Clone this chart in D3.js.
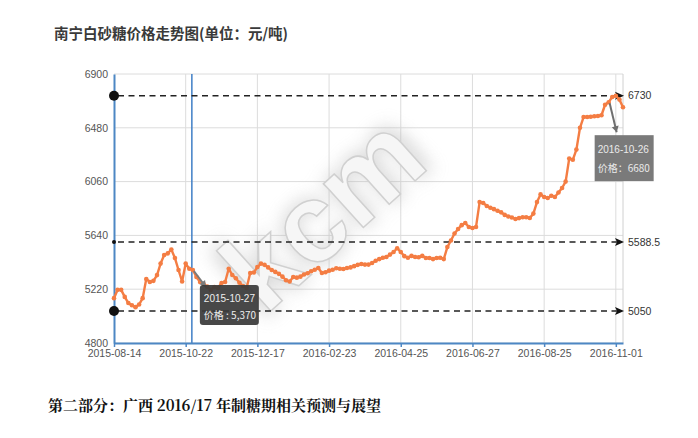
<!DOCTYPE html>
<html><head><meta charset="utf-8">
<script src="https://cdn.jsdelivr.net/npm/d3@7"></script>
<style>html,body{margin:0;padding:0;background:#fff;} svg{display:block;}</style>
</head><body>
<svg id="c" width="698" height="438"></svg>
<script>
const titleText = "南宁白砂糖价格走势图(单位：元/吨)";
const footerText = "第二部分：广西 2016/17 年制糖期相关预测与展望";
const tickLabels = ["2015-08-14","2015-10-22","2015-12-17","2016-02-23","2016-04-25","2016-06-27","2016-08-25","2016-11-01"];
const tickIndex = [0,20,40,60,80,100,120,140];
const yTicks = [4800,5220,5640,6060,6480,6900];
const prices = [
 5150,5215,5215,5160,5112,5095,5080,5100,5150,5300,
 5276,5285,5330,5420,5487,5500,5530,5463,5370,5280,
 5420,5380,5370,5315,5276,5260,5240,5214,5237,5229,
 5268,5276,5380,5331,5305,5270,5245,5229,5346,5350,
 5393,5420,5410,5390,5370,5355,5340,5318,5290,5280,
 5315,5310,5318,5335,5345,5360,5372,5385,5346,5352,
 5365,5372,5383,5380,5378,5385,5390,5400,5410,5417,
 5412,5412,5424,5442,5455,5465,5471,5490,5510,5540,
 5510,5478,5465,5480,5471,5470,5480,5463,5463,5455,
 5463,5465,5455,5549,5600,5655,5690,5720,5737,5705,
 5698,5706,5900,5893,5870,5856,5845,5832,5820,5800,
 5788,5780,5768,5775,5782,5782,5776,5810,5900,5960,
 5940,5932,5950,5940,5975,6010,6060,6240,6230,6310,
 6480,6564,6564,6566,6570,6572,6578,6660,6680,6720,
 6730,6700,6640
];
const refValues = [6730, 5588.5, 5050];
const refLabels = ["6730","5588.5","5050"];
const tipIndex = [22, 138];
const tipDates = ["2015-10-27","2016-10-26"];
const tipLabels = ["价格 : 5,370","价格：6680"];

const svg = d3.select("#c");
const L = 114, R = 623, T = 74, B = 343;
const x = d3.scaleLinear().domain([0, prices.length-1]).range([L, R]);
const y = d3.scaleLinear().domain([4800, 6900]).range([B, T]);
const FONT = "'Liberation Sans', Arial, sans-serif";
const CJK = "'Noto Sans CJK SC', 'Noto Sans', sans-serif";

svg.append("rect").attr("width",698).attr("height",438).attr("fill","#fff");

// title
svg.append("text").attr("x",54).attr("y",39).text(titleText)
  .attr("font-family",CJK).attr("font-weight","bold").attr("font-size",14.5).attr("fill","#3a3a3a");

// gridlines
const grid = svg.append("g");
grid.selectAll("line.h").data(yTicks).join("line")
  .attr("x1",L).attr("x2",R).attr("y1",d=>y(d)).attr("y2",d=>y(d))
  .attr("stroke","#dcdcdc").attr("stroke-width",1);
grid.selectAll("line.v").data(tickIndex.slice(1)).join("line")
  .attr("x1",d=>x(d)).attr("x2",d=>x(d)).attr("y1",T).attr("y2",B)
  .attr("stroke","#dcdcdc").attr("stroke-width",1);
grid.append("line").attr("x1",R).attr("x2",R).attr("y1",T).attr("y2",B)
  .attr("stroke","#d0d0d0").attr("stroke-width",1);

// watermark
const defs = svg.append("defs");
const f = defs.append("filter").attr("id","blur").attr("x","-50%").attr("y","-50%").attr("width","200%").attr("height","200%");
f.append("feGaussianBlur").attr("stdDeviation",9);
const wm = svg.append("g").attr("transform","translate(322,212) rotate(-42)");
wm.append("text").text("kcm").attr("text-anchor","middle").attr("dy","0.35em")
  .attr("font-family",FONT).attr("font-weight","bold").attr("font-size",118)
  .attr("fill","#b5b5b5").attr("opacity",0.6).attr("filter","url(#blur)");
wm.append("text").text("kcm").attr("text-anchor","middle").attr("dy","0.35em")
  .attr("font-family",FONT).attr("font-weight","bold").attr("font-size",112)
  .attr("fill","#f6f6f6").attr("stroke","#d0d0d0").attr("stroke-width",1.5);

// crosshair
svg.append("line").attr("x1",x(tipIndex[0])-1).attr("x2",x(tipIndex[0])-1).attr("y1",T).attr("y2",B)
  .attr("stroke","#3f7fc6").attr("stroke-width",1.5);

// axes
const yAxis = svg.append("g").attr("transform",`translate(${L},0)`)
  .call(d3.axisLeft(y).tickValues(yTicks).tickSize(0).tickPadding(6).tickFormat(d3.format("d")));
yAxis.select(".domain").attr("stroke","#4d87c4").attr("stroke-width",2);
yAxis.selectAll("text").attr("font-family",FONT).attr("font-size",10.5).attr("fill","#555");

const xAxis = svg.append("g").attr("transform",`translate(0,${B})`)
  .call(d3.axisBottom(x).tickValues(tickIndex).tickFormat((d,i)=>tickLabels[i]).tickSize(4).tickSizeOuter(0).tickPadding(3));
xAxis.select(".domain").attr("stroke","#4d87c4").attr("stroke-width",2);
xAxis.selectAll(".tick line").attr("stroke","#4d87c4").attr("stroke-width",1.5);
xAxis.selectAll("text").attr("font-family",FONT).attr("font-size",10.5).attr("fill","#555");

// reference lines
const refs = svg.append("g");
refValues.forEach((v,i)=>{
  const yy = y(v);
  refs.append("line").attr("x1",L+4).attr("x2",R-6).attr("y1",yy).attr("y2",yy)
    .attr("stroke","#222").attr("stroke-width",1.6).attr("stroke-dasharray","6,4.5");
  refs.append("path").attr("d",`M${R-8},${yy-4} L${R+1},${yy} L${R-8},${yy+4} L${R-6},${yy} Z`).attr("fill","#111");
  refs.append("circle").attr("cx",L).attr("cy",yy).attr("r", i===1 ? 2 : 5).attr("fill","#111");
  refs.append("text").attr("x",R+5).attr("y",yy).attr("dy","0.35em").text(refLabels[i])
    .attr("font-family",FONT).attr("font-size",10.5).attr("fill","#333");
});

// line
const line = d3.line().x((d,i)=>x(i)).y(d=>y(d));
svg.append("path").datum(prices).attr("d",line).attr("fill","none")
  .attr("stroke","#f47d43").attr("stroke-width",2.4).attr("stroke-linejoin","round");
svg.append("g").selectAll("circle").data(prices).join("circle")
  .attr("cx",(d,i)=>x(i)).attr("cy",d=>y(d)).attr("r",2.3).attr("fill","#f47d43");

// tooltips
function pointer(x1,y1,x2,y2,col){
  svg.append("line").attr("x1",x1).attr("y1",y1).attr("x2",x2).attr("y2",y2)
    .attr("stroke",col).attr("stroke-width",2);
  const a = Math.atan2(y2-y1,x2-x1), s=6;
  const p = [[x2,y2],[x2-s*Math.cos(a)+3.5*Math.sin(a), y2-s*Math.sin(a)-3.5*Math.cos(a)],[x2-s*Math.cos(a)-3.5*Math.sin(a), y2-s*Math.sin(a)+3.5*Math.cos(a)]];
  svg.append("path").attr("d","M"+p.map(q=>q.join(",")).join("L")+"Z").attr("fill",col);
}
// tooltip 1 (dark)
{
  const px = x(tipIndex[0]), py = y(prices[tipIndex[0]]);
  pointer(px+1, py+1, px+13, py+17, "#7a7a7a");
  const bx = px+7, by = py+15;
  svg.append("rect").attr("x",bx).attr("y",by).attr("width",59).attr("height",40).attr("rx",3)
    .attr("fill","#3a3a3a").attr("opacity",0.93);
  svg.append("text").attr("x",bx+4).attr("y",by+17).text(tipDates[0])
    .attr("font-family",FONT).attr("font-size",10).attr("fill","#eee");
  svg.append("text").attr("x",bx+4).attr("y",by+34).text(tipLabels[0])
    .attr("font-family",CJK).attr("font-size",10).attr("fill","#eee");
}
// tooltip 2 (gray)
{
  const px = x(tipIndex[1]), py = y(prices[tipIndex[1]]);
  pointer(px+1, py+1, px+8, py+30, "#6f6f6f");
  const bx = px-14, by = py+33;
  svg.append("rect").attr("x",bx).attr("y",by).attr("width",59).attr("height",46)
    .attr("fill","#7a7a7a");
  svg.append("text").attr("x",bx+3).attr("y",by+18).text(tipDates[1])
    .attr("font-family",FONT).attr("font-size",10).attr("fill","#eaeaea");
  svg.append("text").attr("x",bx+3).attr("y",by+37).text(tipLabels[1])
    .attr("font-family",CJK).attr("font-size",10).attr("fill","#eaeaea");
}

// footer
svg.append("text").attr("x",48).attr("y",411).text(footerText)
  .attr("font-family","'Noto Serif CJK SC','Noto Sans CJK SC',serif").attr("font-weight","bold").attr("font-size",15).attr("fill","#111");
</script>
</body></html>
